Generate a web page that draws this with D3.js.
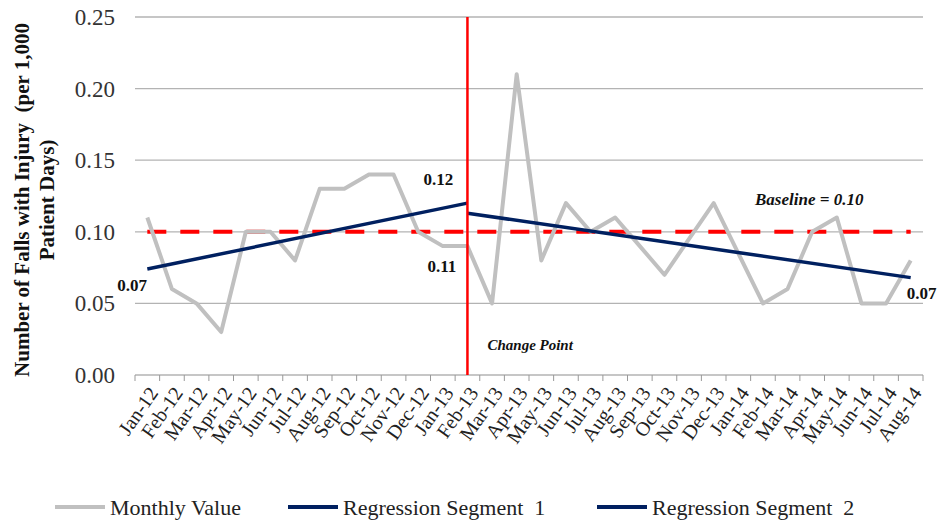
<!DOCTYPE html>
<html>
<head>
<meta charset="utf-8">
<script src="https://cdn.jsdelivr.net/npm/d3@7"></script>
<style>
  body { margin: 0; background: #fff; }
</style>
</head>
<body>
<div id="chart"></div>
<script>
// DATA

const months = ["Jan-12","Feb-12","Mar-12","Apr-12","May-12","Jun-12","Jul-12","Aug-12","Sep-12","Oct-12","Nov-12","Dec-12",
  "Jan-13","Feb-13","Mar-13","Apr-13","May-13","Jun-13","Jul-13","Aug-13","Sep-13","Oct-13","Nov-13","Dec-13",
  "Jan-14","Feb-14","Mar-14","Apr-14","May-14","Jun-14","Jul-14","Aug-14"];

const monthlyValues = [0.11,0.06,0.05,0.03,0.10,0.10,0.08,0.13,0.13,0.14,0.14,0.10,
  0.09,0.09,0.05,0.21,0.08,0.12,0.10,0.11,0.09,0.07,0.095,0.12,
  0.085,0.05,0.06,0.10,0.11,0.05,0.05,0.08];

const segment1 = [{m: "Jan-12", v: 0.074}, {m: "Feb-13", v: 0.120}];
const segment2 = [{m: "Feb-13", v: 0.113}, {m: "Aug-14", v: 0.068}];
const baseline = 0.10;
const changePoint = "Feb-13";
const yTicks = [0, 0.05, 0.10, 0.15, 0.20, 0.25];

// SETUP

const setup = { width: 943, height: 520, left: 135, right: 923, top: 17, bottom: 375 };
const serif = '"Times New Roman", Tinos, "Liberation Serif", "Noto Serif", "DejaVu Serif", "Nimbus Roman", FreeSerif, Times, serif';

const svg = d3.select("#chart").append("svg")
    .attr("width", setup.width)
    .attr("height", setup.height)
    .style("font-family", serif);

const x = d3.scaleBand().domain(months).range([setup.left, setup.right]).padding(0);
const cx = m => x(m) + x.bandwidth() / 2;
const y = d3.scaleLinear().domain([0, 0.25]).range([setup.bottom, setup.top]);

// GRIDLINES + Y LABELS

yTicks.forEach(t => {
    svg.append("line")
        .attr("x1", setup.left).attr("x2", setup.right)
        .attr("y1", y(t)).attr("y2", y(t))
        .attr("stroke", "#b3b3b3").attr("stroke-width", 1.3);
    svg.append("text")
        .attr("x", 115).attr("y", y(t))
        .attr("dy", "0.35em")
        .style("text-anchor", "end")
        .style("font-size", "23px")
        .style("fill", "#333")
        .text(t.toFixed(2));
});

// X AXIS TICKS (between categories)

months.concat(["end"]).forEach((m, i) => {
    const xx = i < months.length ? x(m) : setup.right;
    svg.append("line")
        .attr("x1", xx).attr("x2", xx)
        .attr("y1", setup.bottom).attr("y2", setup.bottom + 6)
        .attr("stroke", "#999").attr("stroke-width", 1);
});

months.forEach(m => {
    svg.append("text")
        .attr("transform", `translate(${cx(m) + 6},${setup.bottom + 14}) rotate(-55)`)
        .attr("dy", "0.35em")
        .style("text-anchor", "end")
        .style("font-size", "20px")
        .style("fill", "#222")
        .text(m);
});

// Y AXIS TITLE

const title = svg.append("text")
    .attr("transform", `translate(0,${(setup.top + setup.bottom) / 2 + 4}) rotate(-90)`)
    .style("text-anchor", "middle")
    .style("font-size", "21px")
    .style("font-weight", "bold")
    .style("fill", "#111");
title.append("tspan").attr("x", 0).attr("y", 29).text("Number of Falls with Injury\u00a0\u00a0(per 1,000");
title.append("tspan").attr("x", 0).attr("y", 54).text("Patient Days)");

// BASELINE

svg.append("line")
    .attr("x1", cx(months[0])).attr("x2", cx(months[months.length - 1]))
    .attr("y1", y(baseline)).attr("y2", y(baseline))
    .attr("stroke", "#ff0000").attr("stroke-width", 4)
    .style("stroke-dasharray", "19, 14");

// MONTHLY VALUES

const line = d3.line().x((d, i) => cx(months[i])).y(d => y(d));
svg.append("path")
    .datum(monthlyValues)
    .attr("d", line)
    .attr("fill", "none")
    .attr("stroke", "#c0c0c0")
    .attr("stroke-width", 4)
    .attr("stroke-linejoin", "round");

// REGRESSION SEGMENTS

const segLine = d3.line().x(d => cx(d.m)).y(d => y(d.v));
[segment1, segment2].forEach(seg => {
    svg.append("path")
        .datum(seg)
        .attr("d", segLine)
        .attr("fill", "none")
        .attr("stroke", "#002060")
        .attr("stroke-width", 3.5);
});

// CHANGE POINT

svg.append("line")
    .attr("x1", cx(changePoint)).attr("x2", cx(changePoint))
    .attr("y1", setup.top).attr("y2", setup.bottom)
    .attr("stroke", "#ff0000").attr("stroke-width", 2.5);

// ANNOTATIONS

const bold = (tx, ty, str, italic, size) => svg.append("text")
    .attr("x", tx).attr("y", ty)
    .attr("dy", "0.35em")
    .style("font-size", (size || 17) + "px")
    .style("font-weight", "bold")
    .style("font-style", italic ? "italic" : "normal")
    .style("fill", "#111")
    .text(str);

bold(cx(segment1[0].m) - 30, y(segment1[0].v) + 16, "0.07");
bold(cx(segment1[1].m) - 44, y(segment1[1].v) - 24, "0.12");
bold(cx(segment2[0].m) - 40, y(segment2[0].v) + 53, "0.11");
bold(cx(segment2[1].m) - 4, y(segment2[1].v) + 15, "0.07");
bold(755, y(baseline) - 33, "Baseline = 0.10", true);
bold(cx(changePoint) + 20, 345, "Change Point", true, 15);

// LEGEND

const legend = [
    { label: "Monthly Value", color: "#c0c0c0", x: 55 },
    { label: "Regression Segment  1", color: "#002060", x: 288 },
    { label: "Regression Segment  2", color: "#002060", x: 597 }
];
legend.forEach(l => {
    svg.append("line")
        .attr("x1", l.x).attr("x2", l.x + 50)
        .attr("y1", 507).attr("y2", 507)
        .attr("stroke", l.color).attr("stroke-width", 4);
    svg.append("text")
        .attr("x", l.x + 55).attr("y", 507)
        .attr("dy", "0.35em")
        .style("font-size", "22px")
        .style("fill", "#222")
        .style("white-space", "pre")
        .text(l.label);
});
</script>
</body>
</html>
